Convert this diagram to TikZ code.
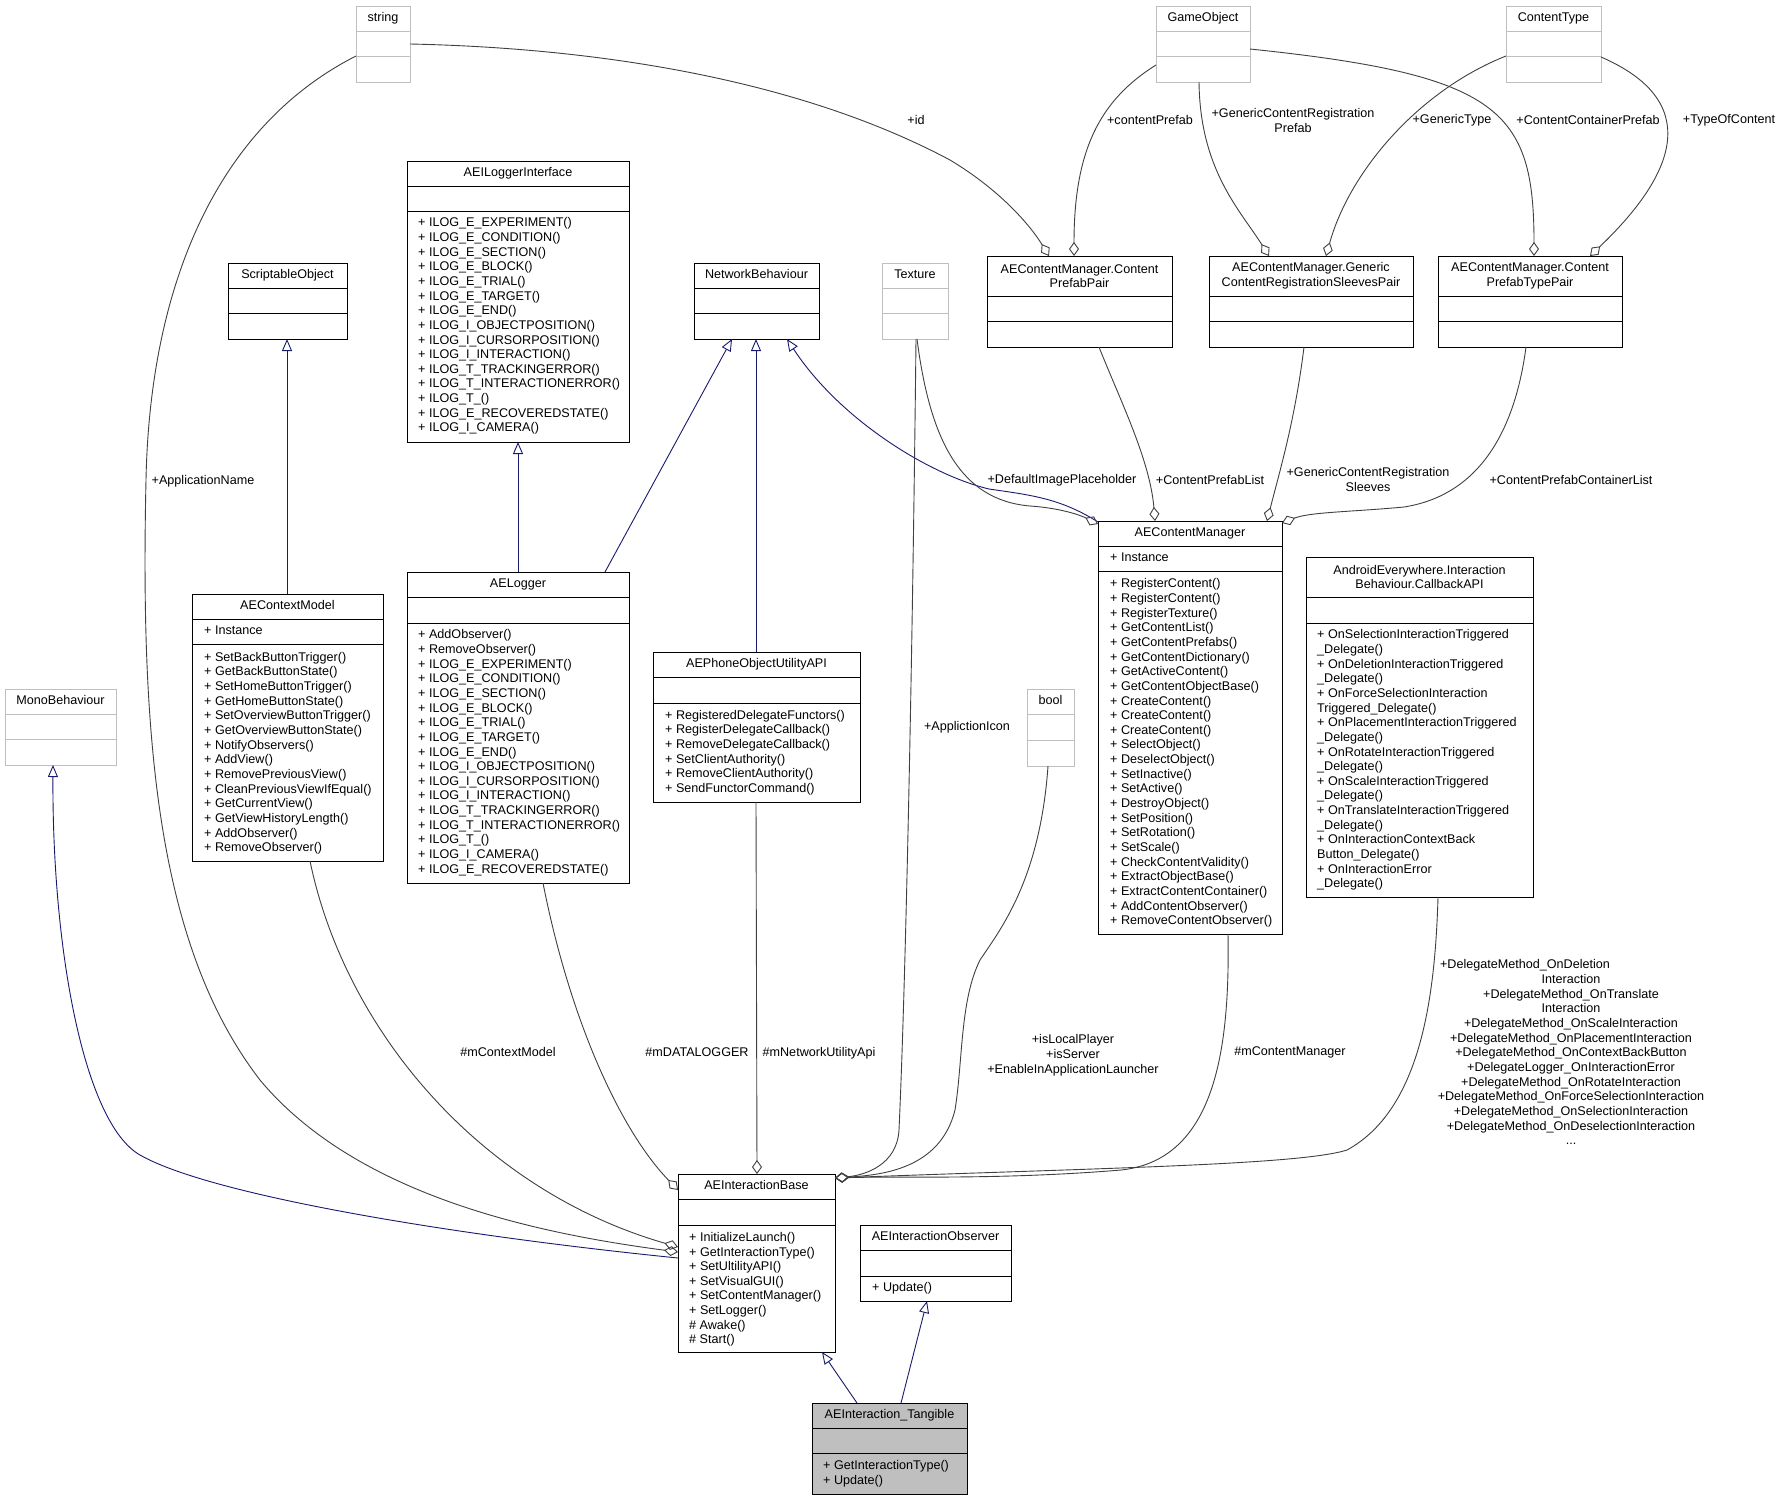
\documentclass[tikz,border=0pt]{standalone}
\usepackage{fontspec}
\setmainfont{Liberation Sans}
\usetikzlibrary{arrows.meta}

\definecolor{edgegray}{HTML}{404040}
\definecolor{inhblue}{HTML}{191970}
\definecolor{extgray}{HTML}{BFBFBF}

\tikzset{
  dox/.style={font=\fontsize{12.6}{14.65}\selectfont, inner sep=0pt},
  clsbox/.style={draw=black, line width=1pt, anchor=north west, inner sep=0pt, outer sep=0pt},
  extbox/.style={clsbox, draw=extgray},
  band/.style={line width=1pt},
  ttl/.style={dox, align=center, text height=9.2pt, text depth=2.6pt},
  ttltwo/.style={dox, align=center},
  mem/.style={dox, anchor=north west, align=left},
  lbl/.style={dox, align=center},
  lbltop/.style={dox, align=center, anchor=north},
  aggr/.style={edgegray, line width=0.9pt, -{Diamond[open, length=14pt, width=10pt]}},
  inh/.style={inhblue, line width=0.9pt, -{Triangle[open, length=12pt, width=10pt]}},
}

\begin{document}
\begin{tikzpicture}[x=1pt, y=-1pt]

	\fill[white] (0,0) rectangle (1782,1500);
	\useasboundingbox (0,0) rectangle (1782,1500);

	% external classes
	\node[extbox, minimum width=54, minimum height=76] (str) at (356,6) {};
	\node[ttl] (strT) at ([shift={(0,12.5)}]str.north) {string};
	\draw[extgray, band] ([shift={(0,25)}]str.north west) -- ([shift={(0,25)}]str.north east) ([shift={(0,50)}]str.north west) -- ([shift={(0,50)}]str.north east);

	\node[extbox, minimum width=94, minimum height=76] (gobj) at (1156,6) {};
	\node[ttl] (gobjT) at ([shift={(0,12.5)}]gobj.north) {GameObject};
	\draw[extgray, band] ([shift={(0,25)}]gobj.north west) -- ([shift={(0,25)}]gobj.north east) ([shift={(0,50)}]gobj.north west) -- ([shift={(0,50)}]gobj.north east);

	\node[extbox, minimum width=95, minimum height=76] (ctype) at (1506,6) {};
	\node[ttl] (ctypeT) at ([shift={(0,12.5)}]ctype.north) {ContentType};
	\draw[extgray, band] ([shift={(0,25)}]ctype.north west) -- ([shift={(0,25)}]ctype.north east) ([shift={(0,50)}]ctype.north west) -- ([shift={(0,50)}]ctype.north east);

	\node[extbox, minimum width=66, minimum height=76] (tex) at (882,263) {};
	\node[ttl] (texT) at ([shift={(0,12.5)}]tex.north) {Texture};
	\draw[extgray, band] ([shift={(0,25)}]tex.north west) -- ([shift={(0,25)}]tex.north east) ([shift={(0,50)}]tex.north west) -- ([shift={(0,50)}]tex.north east);

	\node[extbox, minimum width=111, minimum height=76] (mono) at (5,689) {};
	\node[ttl] (monoT) at ([shift={(0,12.5)}]mono.north) {MonoBehaviour};
	\draw[extgray, band] ([shift={(0,25)}]mono.north west) -- ([shift={(0,25)}]mono.north east) ([shift={(0,50)}]mono.north west) -- ([shift={(0,50)}]mono.north east);

	\node[extbox, minimum width=47, minimum height=77] (boolt) at (1027,689) {};
	\node[ttl] (booltT) at ([shift={(0,12.5)}]boolt.north) {bool};
	\draw[extgray, band] ([shift={(0,25)}]boolt.north west) -- ([shift={(0,25)}]boolt.north east) ([shift={(0,51)}]boolt.north west) -- ([shift={(0,51)}]boolt.north east);

	% project classes
	\node[clsbox, minimum width=119, minimum height=76] (sobj) at (228,263) {};
	\node[ttl] (sobjT) at ([shift={(0,12.5)}]sobj.north) {ScriptableObject};
	\draw[band] ([shift={(0,25)}]sobj.north west) -- ([shift={(0,25)}]sobj.north east) ([shift={(0,50)}]sobj.north west) -- ([shift={(0,50)}]sobj.north east);

	\node[clsbox, minimum width=125, minimum height=76] (netb) at (694,263) {};
	\node[ttl] (netbT) at ([shift={(0,12.5)}]netb.north) {NetworkBehaviour};
	\draw[band] ([shift={(0,25)}]netb.north west) -- ([shift={(0,25)}]netb.north east) ([shift={(0,50)}]netb.north west) -- ([shift={(0,50)}]netb.north east);

	\node[clsbox, minimum width=185, minimum height=91] (cpp) at (987,256) {};
	\node[ttltwo] (cppT) at ([shift={(0,20)}]cpp.north) {AEContentManager.Content\\PrefabPair};
	\draw[band] ([shift={(0,40)}]cpp.north west) -- ([shift={(0,40)}]cpp.north east) ([shift={(0,65)}]cpp.north west) -- ([shift={(0,65)}]cpp.north east);

	\node[clsbox, minimum width=204, minimum height=91] (gsp) at (1209,256) {};
	\node[ttltwo] (gspT) at ([shift={(0,20)}]gsp.north) {AEContentManager.Generic\\ContentRegistrationSleevesPair};
	\draw[band] ([shift={(0,40)}]gsp.north west) -- ([shift={(0,40)}]gsp.north east) ([shift={(0,65)}]gsp.north west) -- ([shift={(0,65)}]gsp.north east);

	\node[clsbox, minimum width=184, minimum height=91] (cptp) at (1438,256) {};
	\node[ttltwo] (cptpT) at ([shift={(0,20)}]cptp.north) {AEContentManager.Content\\PrefabTypePair};
	\draw[band] ([shift={(0,40)}]cptp.north west) -- ([shift={(0,40)}]cptp.north east) ([shift={(0,65)}]cptp.north west) -- ([shift={(0,65)}]cptp.north east);

	\node[clsbox, minimum width=222, minimum height=281] (ili) at (407,161) {};
	\node[ttl] (iliT) at ([shift={(0,12.5)}]ili.north) {AEILoggerInterface};
	\draw[band] ([shift={(0,25)}]ili.north west) -- ([shift={(0,25)}]ili.north east) ([shift={(0,50)}]ili.north west) -- ([shift={(0,50)}]ili.north east);
	\node[mem] (iliM) at ([shift={(11,56.5)}]ili.north west) {+ ILOG\_E\_EXPERIMENT()\\+ ILOG\_E\_CONDITION()\\+ ILOG\_E\_SECTION()\\+ ILOG\_E\_BLOCK()\\+ ILOG\_E\_TRIAL()\\+ ILOG\_E\_TARGET()\\+ ILOG\_E\_END()\\+ ILOG\_I\_OBJECTPOSITION()\\+ ILOG\_I\_CURSORPOSITION()\\+ ILOG\_I\_INTERACTION()\\+ ILOG\_T\_TRACKINGERROR()\\+ ILOG\_T\_INTERACTIONERROR()\\+ ILOG\_T\_()\\+ ILOG\_E\_RECOVEREDSTATE()\\+ ILOG\_I\_CAMERA()};

	\node[clsbox, minimum width=191, minimum height=267] (ctx) at (192,594) {};
	\node[ttl] (ctxT) at ([shift={(0,12.5)}]ctx.north) {AEContextModel};
	\draw[band] ([shift={(0,25)}]ctx.north west) -- ([shift={(0,25)}]ctx.north east) ([shift={(0,50)}]ctx.north west) -- ([shift={(0,50)}]ctx.north east);
	\node[mem] (ctxA) at ([shift={(12,32)}]ctx.north west) {+ Instance};
	\node[mem] (ctxM) at ([shift={(12,58)}]ctx.north west) {+ SetBackButtonTrigger()\\+ GetBackButtonState()\\+ SetHomeButtonTrigger()\\+ GetHomeButtonState()\\+ SetOverviewButtonTrigger()\\+ GetOverviewButtonState()\\+ NotifyObservers()\\+ AddView()\\+ RemovePreviousView()\\+ CleanPreviousViewIfEqual()\\+ GetCurrentView()\\+ GetViewHistoryLength()\\+ AddObserver()\\+ RemoveObserver()};

	\node[clsbox, minimum width=222, minimum height=311] (logger) at (407,572) {};
	\node[ttl] (loggerT) at ([shift={(0,12.5)}]logger.north) {AELogger};
	\draw[band] ([shift={(0,25)}]logger.north west) -- ([shift={(0,25)}]logger.north east) ([shift={(0,51)}]logger.north west) -- ([shift={(0,51)}]logger.north east);
	\node[mem] (loggerM) at ([shift={(11,57.5)}]logger.north west) {+ AddObserver()\\+ RemoveObserver()\\+ ILOG\_E\_EXPERIMENT()\\+ ILOG\_E\_CONDITION()\\+ ILOG\_E\_SECTION()\\+ ILOG\_E\_BLOCK()\\+ ILOG\_E\_TRIAL()\\+ ILOG\_E\_TARGET()\\+ ILOG\_E\_END()\\+ ILOG\_I\_OBJECTPOSITION()\\+ ILOG\_I\_CURSORPOSITION()\\+ ILOG\_I\_INTERACTION()\\+ ILOG\_T\_TRACKINGERROR()\\+ ILOG\_T\_INTERACTIONERROR()\\+ ILOG\_T\_()\\+ ILOG\_I\_CAMERA()\\+ ILOG\_E\_RECOVEREDSTATE()};

	\node[clsbox, minimum width=207, minimum height=150] (phone) at (653,652) {};
	\node[ttl] (phoneT) at ([shift={(0,12.5)}]phone.north) {AEPhoneObjectUtilityAPI};
	\draw[band] ([shift={(0,25)}]phone.north west) -- ([shift={(0,25)}]phone.north east) ([shift={(0,51)}]phone.north west) -- ([shift={(0,51)}]phone.north east);
	\node[mem] (phoneM) at ([shift={(12,58)}]phone.north west) {+ RegisteredDelegateFunctors()\\+ RegisterDelegateCallback()\\+ RemoveDelegateCallback()\\+ SetClientAuthority()\\+ RemoveClientAuthority()\\+ SendFunctorCommand()};

	\node[clsbox, minimum width=184, minimum height=413] (acm) at (1098,521) {};
	\node[ttl] (acmT) at ([shift={(0,12.5)}]acm.north) {AEContentManager};
	\draw[band] ([shift={(0,25)}]acm.north west) -- ([shift={(0,25)}]acm.north east) ([shift={(0,50)}]acm.north west) -- ([shift={(0,50)}]acm.north east);
	\node[mem] (acmA) at ([shift={(12,32)}]acm.north west) {+ Instance};
	\node[mem] (acmM) at ([shift={(12,57.5)}]acm.north west) {+ RegisterContent()\\+ RegisterContent()\\+ RegisterTexture()\\+ GetContentList()\\+ GetContentPrefabs()\\+ GetContentDictionary()\\+ GetActiveContent()\\+ GetContentObjectBase()\\+ CreateContent()\\+ CreateContent()\\+ CreateContent()\\+ SelectObject()\\+ DeselectObject()\\+ SetInactive()\\+ SetActive()\\+ DestroyObject()\\+ SetPosition()\\+ SetRotation()\\+ SetScale()\\+ CheckContentValidity()\\+ ExtractObjectBase()\\+ ExtractContentContainer()\\+ AddContentObserver()\\+ RemoveContentObserver()};

	\node[clsbox, minimum width=227, minimum height=340] (capi) at (1306,557) {};
	\node[ttltwo] (capiT) at ([shift={(0,20)}]capi.north) {AndroidEverywhere.Interaction\\Behaviour.CallbackAPI};
	\draw[band] ([shift={(0,40)}]capi.north west) -- ([shift={(0,40)}]capi.north east) ([shift={(0,66)}]capi.north west) -- ([shift={(0,66)}]capi.north east);
	\node[mem] (capiM) at ([shift={(11,72.5)}]capi.north west) {+ OnSelectionInteractionTriggered\\\_Delegate()\\+ OnDeletionInteractionTriggered\\\_Delegate()\\+ OnForceSelectionInteraction\\Triggered\_Delegate()\\+ OnPlacementInteractionTriggered\\\_Delegate()\\+ OnRotateInteractionTriggered\\\_Delegate()\\+ OnScaleInteractionTriggered\\\_Delegate()\\+ OnTranslateInteractionTriggered\\\_Delegate()\\+ OnInteractionContextBack\\Button\_Delegate()\\+ OnInteractionError\\\_Delegate()};

	\node[clsbox, minimum width=157, minimum height=178] (base) at (678,1174) {};
	\node[ttl] (baseT) at ([shift={(0,12.5)}]base.north) {AEInteractionBase};
	\draw[band] ([shift={(0,25)}]base.north west) -- ([shift={(0,25)}]base.north east) ([shift={(0,51)}]base.north west) -- ([shift={(0,51)}]base.north east);
	\node[mem] (baseM) at ([shift={(11,58)}]base.north west) {+ InitializeLaunch()\\+ GetInteractionType()\\+ SetUltilityAPI()\\+ SetVisualGUI()\\+ SetContentManager()\\+ SetLogger()\\\# Awake()\\\# Start()};

	\node[clsbox, minimum width=151, minimum height=76] (obs) at (860,1225) {};
	\node[ttl] (obsT) at ([shift={(0,12.5)}]obs.north) {AEInteractionObserver};
	\draw[band] ([shift={(0,25)}]obs.north west) -- ([shift={(0,25)}]obs.north east) ([shift={(0,51)}]obs.north west) -- ([shift={(0,51)}]obs.north east);
	\node[mem] (obsM) at ([shift={(12,57.5)}]obs.north west) {+ Update()};

	\node[clsbox, fill=extgray, minimum width=155, minimum height=91] (tang) at (812,1403) {};
	\node[ttl] (tangT) at ([shift={(0,12.5)}]tang.north) {AEInteraction\_Tangible};
	\draw[band] ([shift={(0,25)}]tang.north west) -- ([shift={(0,25)}]tang.north east) ([shift={(0,50)}]tang.north west) -- ([shift={(0,50)}]tang.north east);
	\node[mem] (tangM) at ([shift={(11,57.5)}]tang.north west) {+ GetInteractionType()\\+ Update()};

	% inheritance
	\draw[inh] ([shift={(45,0)}]tang.north west) -- ([shift={(144,0)}]base.south west);
	\draw[inh] ([shift={(89,0)}]tang.north west) -- ([shift={(67,0)}]obs.south west);
	\draw[inh] ([shift={(111,0)}]logger.north west) -- ([shift={(111,0)}]ili.south west);
	\draw[inh] ([shift={(95,0)}]ctx.north west) -- ([shift={(59,0)}]sobj.south west);
	\draw[inh] ([shift={(198,0)}]logger.north west) -- ([shift={(38,0)}]netb.south west);
	\draw[inh] ([shift={(103,0)}]phone.north west) -- ([shift={(62,0)}]netb.south west);
	\draw[inh] ([shift={(0,1)}]acm.north west) .. controls (1060,498) and (1030,495) .. (989,489) .. controls (930,475) and (840,420) .. ([shift={(93,0)}]netb.south west);
	\draw[inh] ([shift={(0,84)}]base.north west) .. controls (450,1235) and (210,1195) .. (140,1155) .. controls (84,1123) and (52,950) .. ([shift={(48,0)}]mono.south west);

	% usage
	\draw[aggr] ([shift={(0,50)}]str.north west) .. controls (220,125) and (150,280) .. (146,480) .. controls (140,750) and (160,950) .. (260,1080) .. controls (360,1200) and (550,1235) .. ([shift={(0,78)}]base.north west);
	\draw[aggr] ([shift={(118,0)}]ctx.south west) .. controls (345,1030) and (480,1190) .. ([shift={(0,73)}]base.north west);
	\draw[aggr] ([shift={(136,0)}]logger.south west) .. controls (570,1020) and (620,1130) .. ([shift={(0,16)}]base.north west);
	\draw[aggr] ([shift={(103,0)}]phone.south west) -- ([shift={(79,0)}]base.north west);
	\draw[aggr] ([shift={(34,0)}]tex.south west) .. controls (912,700) and (905,1000) .. (899,1130) .. controls (897,1165) and (865,1175) .. ([shift={(0,4)}]base.north east);
	\draw[aggr] ([shift={(21,0)}]boolt.south west) .. controls (1040,880) and (1000,930) .. (980,960) .. controls (960,1000) and (963,1060) .. (955,1110) .. controls (940,1170) and (880,1175) .. ([shift={(0,4)}]base.north east);
	\draw[aggr] ([shift={(130,0)}]acm.south west) .. controls (1230,1050) and (1215,1160) .. (1121,1170) .. controls (1000,1180) and (900,1176) .. ([shift={(0,4)}]base.north east);
	\draw[aggr] ([shift={(132,0)}]capi.south west) .. controls (1435,1000) and (1420,1110) .. (1347,1150) .. controls (1300,1165) and (1100,1168) .. ([shift={(0,4)}]base.north east);
	\draw[aggr] ([shift={(35,0)}]tex.south west) .. controls (930,440) and (960,500) .. (1030,506) .. controls (1060,508) and (1080,515) .. ([shift={(0,3)}]acm.north west);
	\draw[aggr] ([shift={(112,0)}]cpp.south west) .. controls (1120,400) and (1150,460) .. ([shift={(57,0)}]acm.north west);
	\draw[aggr] ([shift={(95,0)}]gsp.south west) .. controls (1295,420) and (1280,470) .. ([shift={(169,0)}]acm.north west);
	\draw[aggr] ([shift={(88,0)}]cptp.south west) .. controls (1515,430) and (1480,495) .. (1404,507) .. controls (1350,512) and (1310,512) .. ([shift={(0,2)}]acm.north east);
	\draw[aggr] ([shift={(0,38)}]str.north east) .. controls (600,48) and (800,80) .. (950,160) .. controls (1000,190) and (1030,225) .. ([shift={(62,0)}]cpp.north west);
	\draw[aggr] ([shift={(0,59)}]gobj.north west) .. controls (1100,100) and (1074,150) .. ([shift={(87,0)}]cpp.north west);
	\draw[aggr] ([shift={(43,0)}]gobj.south west) .. controls (1200,170) and (1240,210) .. ([shift={(60,0)}]gsp.north west);
	\draw[aggr] ([shift={(0,50)}]ctype.north west) .. controls (1420,90) and (1350,170) .. ([shift={(117,0)}]gsp.north west);
	\draw[aggr] ([shift={(0,43)}]gobj.north east) .. controls (1500,75) and (1534,110) .. ([shift={(96,0)}]cptp.north west);
	\draw[aggr] ([shift={(0,51)}]ctype.north east) .. controls (1700,100) and (1680,170) .. ([shift={(152,0)}]cptp.north west);

	% edge labels
	\node[lbl] (lAppName) at (203,481) {+ApplicationName};
	\node[lbl] (lId) at (916,120) {+id};
	\node[lbl] (lContentPrefab) at (1150,120) {+contentPrefab};
	\node[lbltop] (lGenPrefab) at (1293,108.5) {+GenericContentRegistration\\Prefab};
	\node[lbl] (lGenType) at (1452,120) {+GenericType};
	\node[lbl] (lContainerPrefab) at (1588,120) {+ContentContainerPrefab};
	\node[lbl] (lTypeOf) at (1729,120) {+TypeOfContent};
	\node[lbl] (lDefImage) at (1062,480) {+DefaultImagePlaceholder};
	\node[lbl] (lPrefabList) at (1210,480) {+ContentPrefabList};
	\node[lbltop] (lGenSleeves) at (1368,467.5) {+GenericContentRegistration\\Sleeves};
	\node[lbl] (lContainerList) at (1571,480) {+ContentPrefabContainerList};
	\node[lbl] (lAppIcon) at (967,727) {+ApplictionIcon};
	\node[lbl] (lCtxModel) at (508,1052) {\#mContextModel};
	\node[lbl] (lDataLogger) at (697,1052) {\#mDATALOGGER};
	\node[lbl] (lNetUtil) at (819,1053) {\#mNetworkUtilityApi};
	\node[lbltop] (lFlags) at (1073,1034.5) {+isLocalPlayer\\+isServer\\+EnableInApplicationLauncher};
	\node[lbl] (lContentMgr) at (1290,1052) {\#mContentManager};
	\node[lbltop] (lDelegates) at (1571,959.5) {+DelegateMethod\_OnDeletion\hspace*{92pt}\\Interaction\\+DelegateMethod\_OnTranslate\hspace*{92pt}\\Interaction\\+DelegateMethod\_OnScaleInteraction\\+DelegateMethod\_OnPlacementInteraction\\+DelegateMethod\_OnContextBackButton\\+DelegateLogger\_OnInteractionError\\+DelegateMethod\_OnRotateInteraction\\+DelegateMethod\_OnForceSelectionInteraction\\+DelegateMethod\_OnSelectionInteraction\\+DelegateMethod\_OnDeselectionInteraction\\...};

\end{tikzpicture}
\end{document}
